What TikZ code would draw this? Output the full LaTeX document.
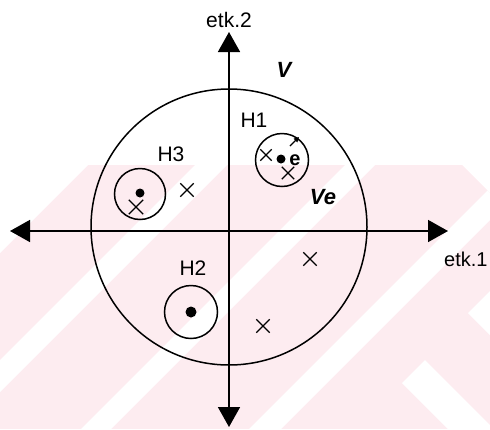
\documentclass[tikz,border=0pt]{standalone}
\usepackage{fontspec}
\setmainfont{Liberation Sans}
\usetikzlibrary{arrows.meta,shapes.misc}
\definecolor{wm}{RGB}{253,236,240}
\begin{document}
\begin{tikzpicture}[x=1pt,y=-1pt,
  axis/.style={line width=1.6pt, {Triangle[length=20pt,width=22pt]}-{Triangle[length=20pt,width=22pt]}},
  ring/.style={draw, line width=1.5pt},
  lbl/.style={font=\fontsize{21}{25}\selectfont, inner sep=0pt},
  bilbl/.style={font=\fontsize{22}{26}\selectfont\bfseries\itshape, inner sep=0pt},
  dotnode/.style={circle, fill, inner sep=0pt, minimum size=#1},
  crossnode/.style={cross out, draw, inner sep=0pt, minimum size=#1, line width=1.4pt}
]
\useasboundingbox (0,0) rectangle (490,429);
% watermark
\begin{scope}
  \clip (0,165) -- (462,165) -- (490,193) -- (490,429) -- (0,429) -- cycle;
  \fill[wm] (0,165) rectangle (490,429);
  \fill[white] (0,165) -- (88,165) -- (0,253) -- cycle;
  \fill[white] (360,0) -- (392,0) -- (-208,600) -- (-240,600) -- cycle;
  \fill[white] (510,0) -- (540,0) -- (-60,600) -- (-90,600) -- cycle;
  \fill[white] (678,0) -- (710,0) -- (110,600) -- (78,600) -- cycle;
  \fill[white] (402,383) -- (425,360) -- (600,535) -- (577,558) -- cycle;
  \fill[white] (468,313) -- (490,291) -- (600,400) -- (578,423) -- cycle;
\end{scope}
% axes
\coordinate (xl) at (10,231);
\coordinate (xr) at (448,231);
\coordinate (yt) at (229,32);
\coordinate (yb) at (229,427);
\draw[axis] (xl) -- (xr);
\draw[axis] (yb) -- (yt);
% big circle
\node[ring, circle, minimum size=276pt, inner sep=0pt] (V) at (229,227) {};
% labels
\node[lbl] (l2) at (229,20) {etk.2};
\node[lbl, font=\fontsize{20}{24}\selectfont, anchor=west] (l1) at (444,259) {etk.1};
\node[bilbl] (lv) at (284,70) {V};
\node[bilbl] (lve) at (323,197) {Ve};
\node[lbl] (lh1) at (254,120) {H1};
\node[lbl] (lh3) at (171,154) {H3};
\node[lbl] (lh2) at (193,268) {H2};
% small circles
\node[ring, circle, minimum size=53pt, inner sep=0pt] (H1) at (282,160) {};
\node[ring, circle, minimum size=51pt, inner sep=0pt] (H3) at (140,194) {};
\node[ring, circle, minimum size=53pt, inner sep=0pt] (H2) at (191,312) {};
% dots
\node[dotnode=9pt] (d1) at (281,159) {};
\node[dotnode=9pt] (d3) at (140,193) {};
\node[dotnode=11pt] (d2) at (191,312) {};
% crosses
\node[crossnode=10pt] (c1a) at (266,155) {};
\node[crossnode=11pt] (c1b) at (288,173) {};
\node[crossnode=13pt] (c3) at (136,207) {};
\node[crossnode=12pt] (c4) at (187,190) {};
\node[crossnode=12pt] (c5) at (310,259) {};
\node[crossnode=12pt] (c6) at (263,326) {};
% vector e
\node[font=\fontsize{20}{22}\selectfont\bfseries, inner sep=0pt] (e) at (295,160) {e};
\coordinate (ea) at (290,146);
\coordinate (eb) at (299,137);
\draw[line width=1.4pt, -{Triangle[length=5pt,width=5pt]}] (ea) -- (eb);
\end{tikzpicture}
\end{document}
